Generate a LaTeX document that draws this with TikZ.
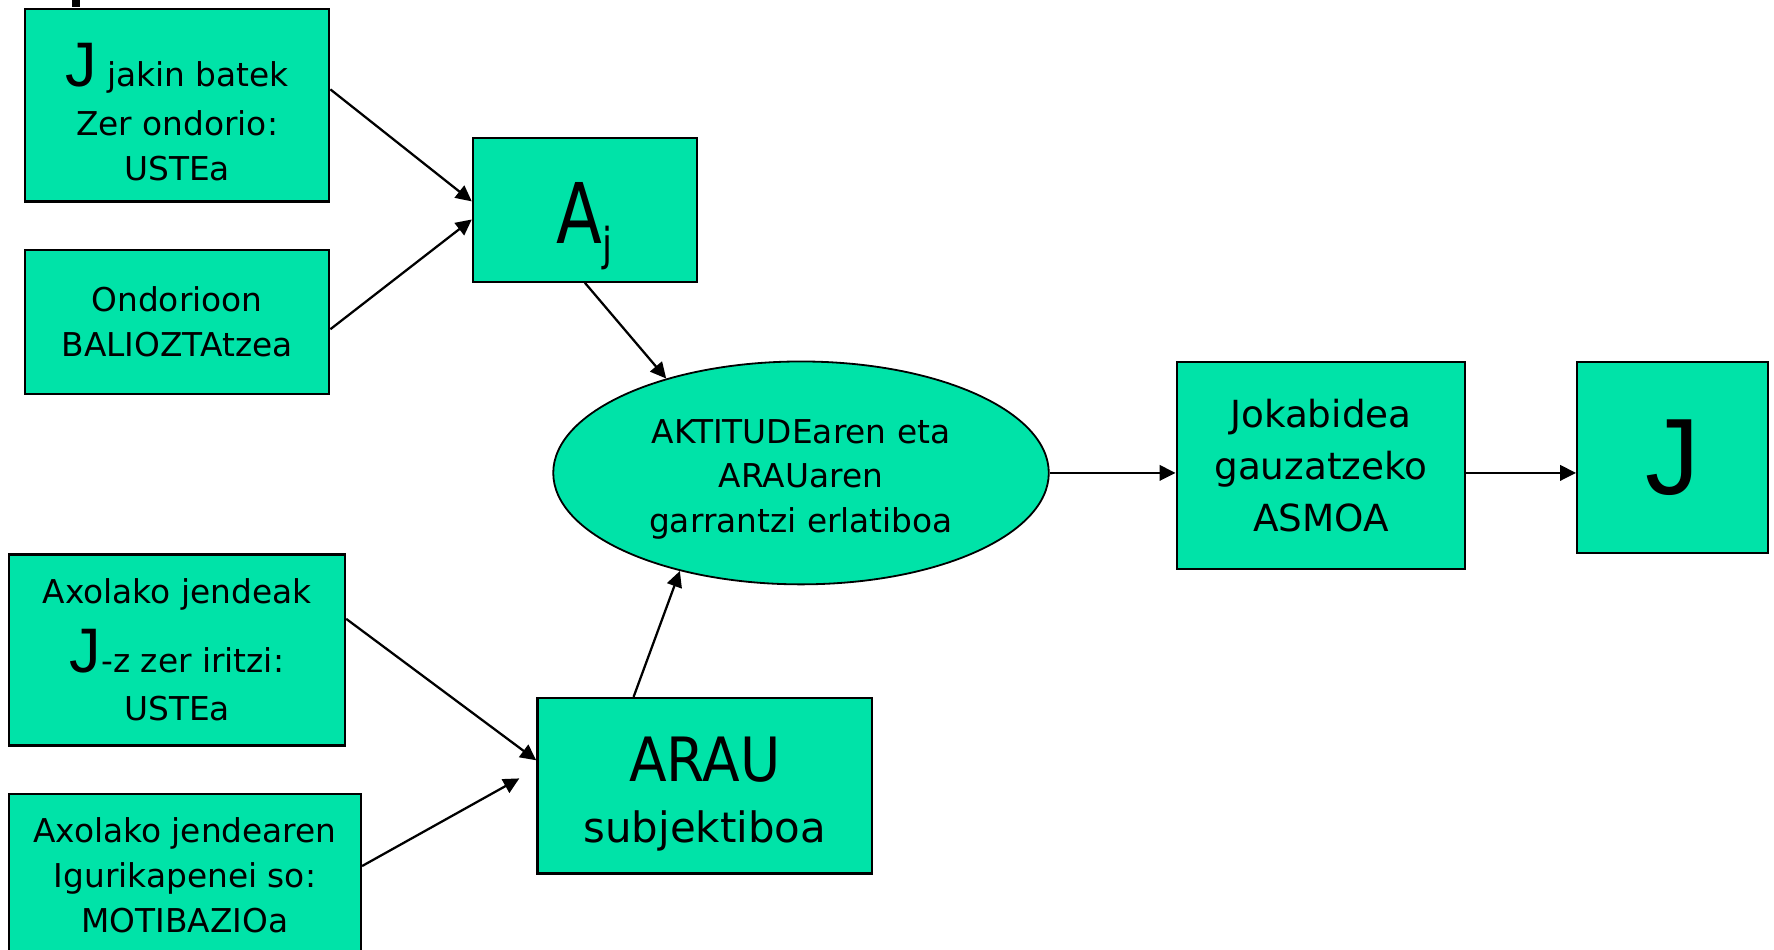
\documentclass[tikz,border=0pt]{standalone}
\usepackage{fontspec}
\setmainfont{DejaVu Sans}
\newfontfamily\jfont{Liberation Sans}
\newfontfamily\narrowA[FakeStretch=0.8]{DejaVu Sans}
\newfontfamily\narrowB[FakeStretch=0.9]{DejaVu Sans}
\usetikzlibrary{arrows.meta,shapes.geometric,calc}
\definecolor{boxgreen}{RGB}{0,227,168}
\begin{document}
\begin{tikzpicture}[x=0.5pt,y=-0.5pt,
  box/.style={draw=black,line width=1pt,fill=boxgreen,inner sep=0pt,align=center,
    font=\fontsize{14.5}{20}\selectfont},
  oval/.style={ellipse,draw=black,line width=0.8pt,fill=boxgreen,inner sep=0pt,align=center,
    font=\fontsize{14.5}{19.5}\selectfont},
  arr/.style={line width=1pt,-{Triangle[length=7pt,width=6.8pt]}}]
\useasboundingbox (0,0) rectangle (1568,839);
% fragment of cut-off title
\fill[black] (64,0) rectangle (71,6);

\node[box,minimum width=134.5pt,minimum height=85pt] (j1) at (156.5,93)
  {\rule{0pt}{25.2pt}{\jfont\fontsize{27.8}{27.8}\selectfont J} jakin batek\\[1.35pt]Zer ondorio:\\USTEa};
\node[box,minimum width=134.5pt,minimum height=63.5pt] (j2) at (156.5,284.5)
  {Ondorioon\\BALIOZTAtzea};
\node[box,minimum width=99pt,minimum height=63.5pt] (aj) at (517,185.5)
  {\raisebox{-14.75pt}[0pt][0pt]{\narrowA\fontsize{37}{37}\selectfont A\raisebox{-7.8pt}{\fontsize{20}{20}\selectfont j}}};
\node[oval,minimum width=219pt,minimum height=98.5pt] (ell) at (708,418)
  {\rule{0pt}{16.3pt}AKTITUDEaren eta\\ARAUaren\\garrantzi erlatiboa};
\node[box,minimum width=127.5pt,minimum height=91.5pt,font=\fontsize{16.5}{22.85}\selectfont] (jok) at (1167.5,411.5)
  {Jokabidea\\gauzatzeko\\ASMOA};
\node[box,minimum width=84.5pt,minimum height=84.5pt] (jfin) at (1478.5,404.5)
  {{\jfont\fontsize{48}{48}\selectfont J}};
\node[box,minimum width=148.5pt,minimum height=84.5pt] (b7) at (156.5,574.5)
  {Axolako jendeak\\[7.5pt]{\jfont\fontsize{27.8}{27.8}\selectfont J}-z zer iritzi:\\[1.2pt]USTEa};
\node[box,minimum width=155.5pt,minimum height=71.5pt] (b8) at (163.5,773.5)
  {Axolako jendearen\\Igurikapenei so:\\MOTIBAZIOa};
\node[box,minimum width=148pt,minimum height=77.5pt,font=\fontsize{18.5}{27}\selectfont] (arau) at (623,694.5)
  {\rule{0pt}{27.2pt}{\narrowB\fontsize{27}{27}\selectfont ARAU}\\subjektiboa};
\coordinate (gap) at ([xshift=-7.5pt,yshift=3.25pt]arau.west);

\draw[arr] ([yshift=7pt]j1.east) -- ([yshift=3.75pt]aj.west);
\draw[arr] ([yshift=-3.25pt]j2.east) -- ([yshift=-4.25pt]aj.west);
\draw[arr] (aj.south) -- (ell.145);
\draw[arr] ([yshift=13.75pt]b7.east) -- ([yshift=11.25pt]arau.west);
\draw[arr] ([yshift=4pt]b8.east) -- (gap);
\draw[arr] ([xshift=-31.5pt]arau.north) -- (ell.219);
\draw[arr] (ell.east) -- (ell.east -| jok.west);
\draw[arr] (jok.east |- ell.east) -- (jfin.west |- ell.east);
\end{tikzpicture}
\end{document}
